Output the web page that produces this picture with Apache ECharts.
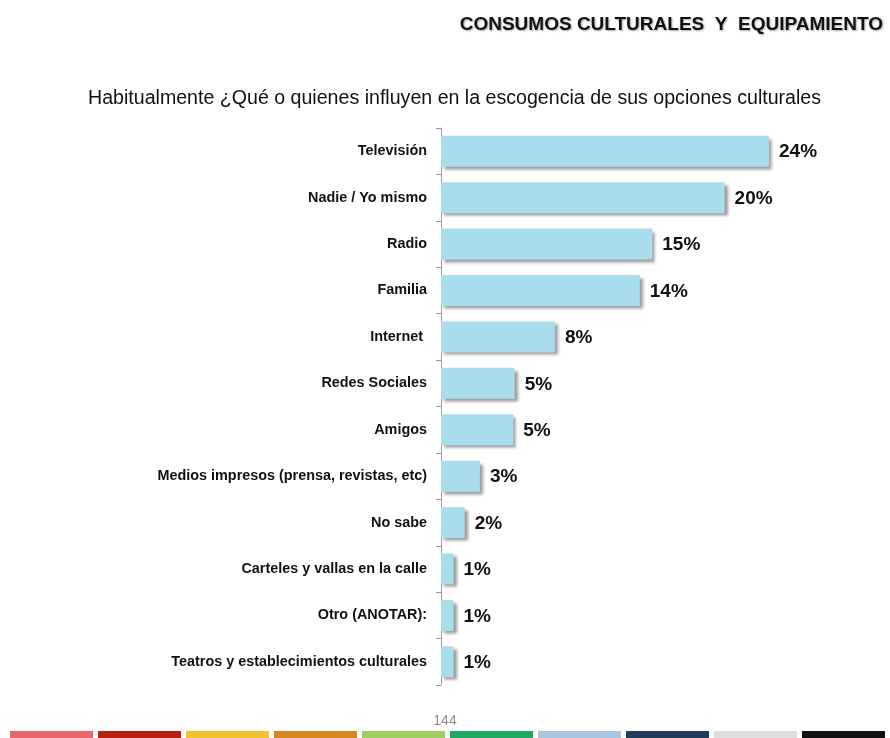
<!DOCTYPE html>
<html>
<head>
<meta charset="utf-8">
<script src="https://cdn.jsdelivr.net/npm/echarts@6/dist/echarts.min.js"></script>
<style>
  html, body { margin: 0; padding: 0; background: #fff; }
  #chart { width: 890px; height: 738px; }
</style>
</head>
<body>
<div id="chart"></div>
<script>
// categories top to bottom, as in the picture
const categories = [
  'Televisión',
  'Nadie / Yo mismo',
  'Radio',
  'Familia',
  'Internet ',
  'Redes Sociales',
  'Amigos',
  'Medios impresos (prensa, revistas, etc)',
  'No sabe',
  'Carteles y vallas en la calle',
  'Otro (ANOTAR):',
  'Teatros y establecimientos culturales'
]
// percentages (labels are rounded)
const values = [23.6, 20.4, 15.2, 14.3, 8.2, 5.3, 5.2, 2.8, 1.7, 0.9, 0.9, 0.9]
// colours of the strip at the bottom of the page
const stripColors = ['#e9666c', '#b8210f', '#f3c22f', '#d5861f', '#9fcd60',
  '#20a964', '#a9c6e1', '#1f3b5b', '#dedede', '#111111']

let myChart = echarts.init(document.getElementById('chart'))

let strip = stripColors.map(function(c, i) {
  return {
    type: 'rect',
    shape: { x: 10 + i * 88, y: 731, width: 83, height: 7 },
    style: { fill: c },
    silent: true
  }
})

myChart.setOption({
  animation: false,
  textStyle: { fontFamily: 'Liberation Sans, Arial, sans-serif' },
  title: [
    {
      text: 'CONSUMOS CULTURALES  Y  EQUIPAMIENTO',
      right: 2,
      top: 10,
      textStyle: {
        fontSize: 19,
        fontWeight: 'bold',
        color: '#111',
        textShadowColor: 'rgba(0,0,0,0.35)',
        textShadowBlur: 2,
        textShadowOffsetX: 1,
        textShadowOffsetY: 1
      }
    },
    {
      text: 'Habitualmente ¿Qué o quienes influyen en la escogencia de sus opciones culturales',
      left: 83,
      top: 84,
      textStyle: { fontSize: 19.6, fontWeight: 'normal', color: '#111' }
    },
    {
      text: '144',
      left: 'center',
      top: 709,
      textStyle: { fontSize: 14, fontWeight: 'normal', color: '#888' }
    }
  ],
  grid: {
    left: 441,
    right: 32,
    top: 128,
    height: 557
  },
  xAxis: {
    type: 'value',
    min: 0,
    max: 30,
    show: false
  },
  yAxis: {
    type: 'category',
    inverse: true,
    data: categories,
    axisLine: { lineStyle: { color: '#a0a0a0', width: 1 } },
    axisTick: { show: true, length: 5, lineStyle: { color: '#999', width: 1 } },
    axisLabel: {
      margin: 14,
      fontSize: 14.4,
      fontWeight: 'bold',
      color: '#111'
    }
  },
  series: [
    {
      type: 'bar',
      data: values,
      barWidth: 31,
      itemStyle: {
        color: '#a9dced',
        shadowColor: 'rgba(0,0,0,0.4)',
        shadowBlur: 3,
        shadowOffsetX: 3,
        shadowOffsetY: 3
      },
      label: {
        show: true,
        position: 'right',
        distance: 10,
        fontSize: 19,
        fontWeight: 'bold',
        color: '#111',
        offset: [0, 1],
        formatter: function(p) {
          return Math.round(p.value) + '%'
        }
      }
    }
  ],
  graphic: strip
})
</script>
</body>
</html>
